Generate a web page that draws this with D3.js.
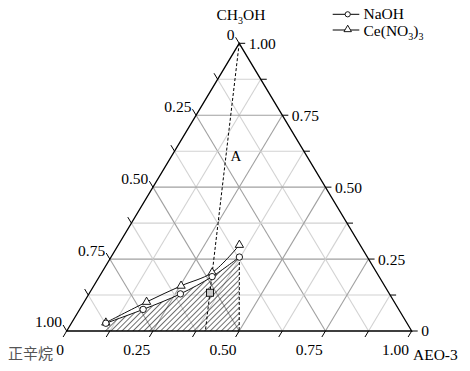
<!DOCTYPE html>
<meta charset="utf-8">
<style>
body { margin: 0; background: #fff; }
text { font-family: "Liberation Serif", "Times New Roman", serif; fill: #000; }
text.cjk { font-family: "Noto Sans CJK SC", sans-serif; fill: #555; }
</style>
<svg width="470" height="371"></svg>
<script src="https://d3js.org/d3.v7.min.js"></script>
<script>
// compositions: mass fraction of CH3OH and AEO-3 (octane is the rest)
const naohMethanol = [0.027, 0.075, 0.129, 0.189, 0.257]
const naohAeo      = [0.100, 0.184, 0.265, 0.327, 0.372]
const ceMethanol   = [0.029, 0.101, 0.157, 0.203, 0.299]
const ceAeo        = [0.099, 0.181, 0.253, 0.320, 0.351]
// sample point (square) and dilution line end on the base
const sampleMethanol = 0.133, sampleAeo = 0.349
const dilutionEndAeo = 0.402
const hatchEndAeo = [0.5, 0.11]  // base points closing the hatched area
const gridSteps = d3.range(1, 8).map(i => i / 8)
const tickSteps = d3.range(0, 9).map(i => i / 8)
const labelSteps = [0, 0.25, 0.5, 0.75, 1]
const tickLabels = ["0", "0.25", "0.50", "0.75", "1.00"]

const svg = d3.select("svg")

// base scale (AEO-3 along the bottom) and height scale (CH3OH)
const x = d3.scaleLinear().domain([0, 1]).range([66.7, 411.7])
const y = d3.scaleLinear().domain([0, 1]).range([331, 43.3])
const proj = (a, b) => [x(b + a / 2), y(a)]

const defs = svg.append("defs")
defs.append("pattern")
    .attr("id", "hatch")
    .attr("patternUnits", "userSpaceOnUse")
    .attr("width", 3.9).attr("height", 3.9)
    .attr("patternTransform", "rotate(45)")
  .append("line")
    .attr("x1", 0).attr("y1", 0).attr("x2", 0).attr("y2", 3.9)
    .attr("stroke", "#111").attr("stroke-width", 1.2)

// grid
const grid = svg.append("g")
gridSteps.forEach((k, i) => {
  const col = (i % 2 === 1) ? "#a0a0a0" : "#d2d2d2"
  const segs = [
    [proj(k, 0), proj(k, 1 - k)],       // constant CH3OH
    [proj(0, k), proj(1 - k, k)],       // constant AEO-3
    [proj(1 - k, 0), proj(0, 1 - k)]    // constant octane
  ]
  segs.forEach(s => grid.append("line")
      .attr("x1", s[0][0]).attr("y1", s[0][1])
      .attr("x2", s[1][0]).attr("y2", s[1][1])
      .attr("stroke", col).attr("stroke-width", 1.1))
})

const naoh = naohMethanol.map((a, i) => proj(a, naohAeo[i]))
const ce = ceMethanol.map((a, i) => proj(a, ceAeo[i]))
const curve = d3.line().curve(d3.curveCatmullRom)

// hatched area under the NaOH curve
const hatchPath = curve(naoh) + "L" + proj(0, hatchEndAeo[0]).join(",") +
  "L" + proj(0, hatchEndAeo[1]).join(",") + "Z"
svg.append("path").attr("d", hatchPath).attr("fill", "url(#hatch)")

// dashed lines
const dash = (p, q) => svg.append("line")
    .attr("x1", p[0]).attr("y1", p[1]).attr("x2", q[0]).attr("y2", q[1])
    .attr("stroke", "#000").attr("stroke-width", 1).attr("stroke-dasharray", "3,2")
dash(proj(1, 0), proj(0, dilutionEndAeo))
dash(naoh[naoh.length - 1], proj(0, hatchEndAeo[0]))

// curves
svg.append("path").attr("d", curve(ce)).attr("fill", "none").attr("stroke", "#111").attr("stroke-width", 1)
svg.append("path").attr("d", curve(naoh)).attr("fill", "none").attr("stroke", "#111").attr("stroke-width", 1)

const tri = d3.symbol().type(d3.symbolTriangle).size(30)
svg.selectAll(".ce").data(ce).join("path")
    .attr("transform", d => `translate(${d[0]},${d[1]})`)
    .attr("d", tri).attr("fill", "#fff").attr("stroke", "#000").attr("stroke-width", 0.9)
svg.selectAll(".naoh").data(naoh).join("circle")
    .attr("cx", d => d[0]).attr("cy", d => d[1]).attr("r", 3.2)
    .attr("fill", "#fff").attr("stroke", "#000").attr("stroke-width", 0.9)

const sq = proj(sampleMethanol, sampleAeo)
svg.append("rect").attr("x", sq[0] - 3.5).attr("y", sq[1] - 3.5)
    .attr("width", 7).attr("height", 7)
    .attr("fill", "#c8c8c8").attr("stroke", "#000").attr("stroke-width", 0.9)

// outline
const L = proj(0, 0), R = proj(0, 1), T = proj(1, 0)
svg.append("path").attr("d", `M${L}L${R}L${T}Z`)
    .attr("fill", "none").attr("stroke", "#000").attr("stroke-width", 1.3)

// ticks
const ticks = svg.append("g").attr("stroke", "#000").attr("stroke-width", 1)
tickSteps.forEach(k => {
  const b = proj(0, k)
  ticks.append("line").attr("x1", b[0]).attr("y1", b[1]).attr("x2", b[0] - 3.6).attr("y2", b[1] + 6)
  const r = proj(k, 1 - k)
  ticks.append("line").attr("x1", r[0]).attr("y1", r[1]).attr("x2", r[0] + 6).attr("y2", r[1])
  const l = proj(1 - k, 0)
  ticks.append("line").attr("x1", l[0]).attr("y1", l[1]).attr("x2", l[0] - 3.6).attr("y2", l[1] - 6)
})

// tick labels
const fs = "15.5px"
labelSteps.forEach((k, i) => {
  const b = proj(0, k)
  svg.append("text").attr("x", b[0] - 2.6).attr("y", b[1] + 23.5)
      .attr("text-anchor", "end").style("font-size", fs).text(tickLabels[i])
  const r = proj(k, 1 - k)
  svg.append("text").attr("x", r[0] + 9.5).attr("y", r[1]).attr("dy", "0.35em")
      .style("font-size", fs).text(tickLabels[i])
  const l = proj(1 - k, 0)
  svg.append("text").attr("x", l[0] - 4.6).attr("y", l[1] - 9).attr("dy", "0.35em")
      .attr("text-anchor", "end").style("font-size", fs).text(tickLabels[i])
})

// axis titles
const topTitle = svg.append("text").attr("x", 241).attr("y", 20).attr("text-anchor", "middle").style("font-size", "15.5px")
topTitle.append("tspan").text("CH")
topTitle.append("tspan").attr("dy", 4).style("font-size", "10px").text("3")
topTitle.append("tspan").attr("dy", -4).text("OH")
svg.append("text").attr("x", 8).attr("y", 359).attr("class", "cjk").style("font-size", "15px").text("正辛烷")
svg.append("text").attr("x", 413).attr("y", 360).style("font-size", "15.5px").text("AEO-3")

// point label
const pa = proj(0.609, 0.186)
svg.append("text").attr("x", pa[0]).attr("y", pa[1]).attr("dy", "0.35em")
    .attr("text-anchor", "middle").style("font-size", "15px").text("A")

// legend
const lg = svg.append("g")
lg.append("line").attr("x1", 332.7).attr("x2", 359.3).attr("y1", 14.3).attr("y2", 14.3).attr("stroke", "#000")
lg.append("circle").attr("cx", 347.7).attr("cy", 14.3).attr("r", 2.6).attr("fill", "#fff").attr("stroke", "#000").attr("stroke-width", 0.9)
lg.append("text").attr("x", 363.5).attr("y", 19).style("font-size", "15.5px").text("NaOH")
lg.append("line").attr("x1", 332.7).attr("x2", 359.3).attr("y1", 30).attr("y2", 30).attr("stroke", "#000")
lg.append("path").attr("transform", "translate(347.7,29.5)").attr("d", d3.symbol().type(d3.symbolTriangle).size(24))
    .attr("fill", "#fff").attr("stroke", "#000").attr("stroke-width", 0.9)
const ct = lg.append("text").attr("x", 363.5).attr("y", 35.5).style("font-size", "15.5px")
ct.append("tspan").text("Ce(NO")
ct.append("tspan").attr("dy", 4).style("font-size", "10px").text("3")
ct.append("tspan").attr("dy", -4).text(")")
ct.append("tspan").attr("dy", 4).style("font-size", "10px").text("3")
</script>
